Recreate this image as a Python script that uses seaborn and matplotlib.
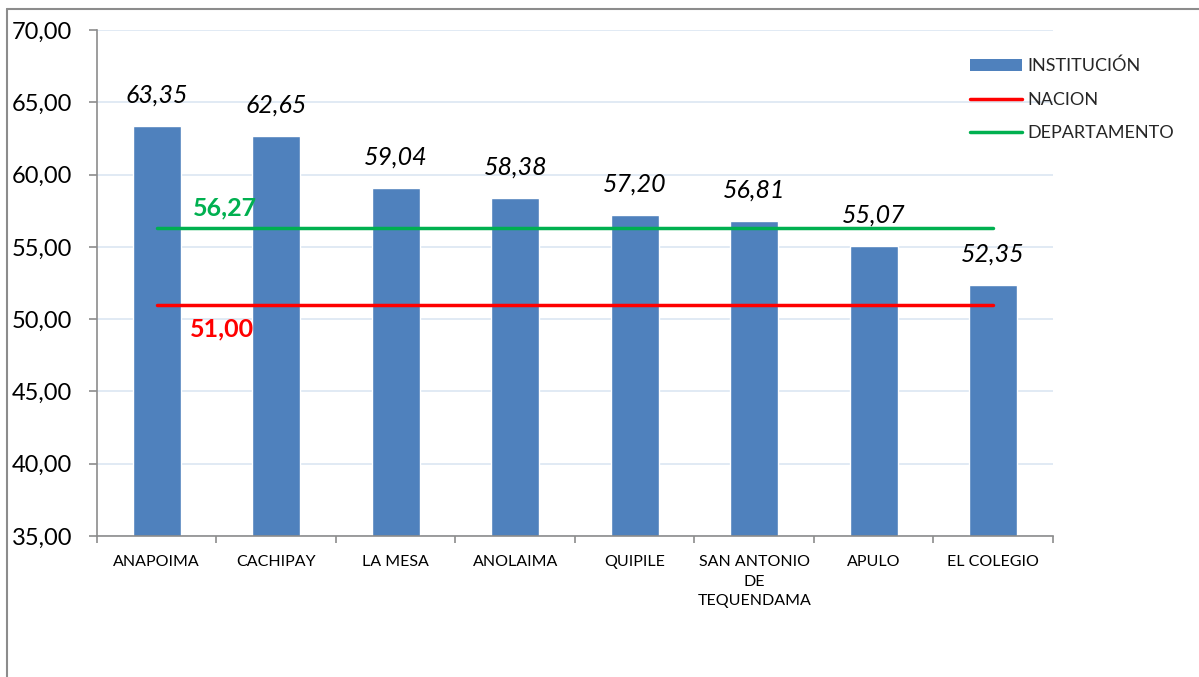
import numpy as np
import pandas as pd
import matplotlib.pyplot as plt
from matplotlib.lines import Line2D
from matplotlib.patches import Patch
from matplotlib.ticker import FuncFormatter, FixedLocator
import seaborn as sns

categories = ["ANAPOIMA", "CACHIPAY", "LA MESA", "ANOLAIMA", "QUIPILE",
              "SAN ANTONIO\nDE\nTEQUENDAMA", "APULO", "EL COLEGIO"]
institucion = [63.35, 62.65, 59.04, 58.38, 57.20, 56.81, 55.07, 52.35]
nacion = [51.00] * 8
departamento = [56.27] * 8

sns.set_theme(style="white")
plt.rcParams['font.family'] = ['Lato', 'DejaVu Sans']

def comma(v, pos=None):
    return f"{v:.2f}".replace(".", ",")

df = pd.DataFrame({"municipio": categories, "puntaje": institucion})

fig = plt.figure(figsize=(11.99, 6.77), dpi=100)
ax = fig.add_axes([0.0809, 0.2083, 0.7973, 0.7474])

sns.barplot(data=df, x="municipio", y="puntaje", color="#4F81BD",
            saturation=1, width=0.4, ax=ax, zorder=2)
xs = np.arange(len(categories))
ax.plot(xs, nacion, color="#FF0000", lw=2.5, zorder=3)
ax.plot(xs, departamento, color="#00B050", lw=2.5, zorder=3)

ax.set_ylim(35, 70)
ax.set_xlim(-0.5, len(categories) - 0.5)
ax.set_yticks(np.arange(35, 71, 5))
ax.yaxis.set_major_formatter(FuncFormatter(comma))
ax.grid(axis="y", color="#DCE6F2", lw=1.2, zorder=0)
ax.set_xlabel("")
ax.set_ylabel("")

for sp in ["top", "right"]:
    ax.spines[sp].set_visible(False)
for sp in ["left", "bottom"]:
    ax.spines[sp].set_color("#8C8C8C")
    ax.spines[sp].set_linewidth(1.2)

ax.tick_params(axis="y", left=True, length=6, width=1.2, color="#8C8C8C",
               pad=12, labelsize=17, labelcolor="black")
ax.tick_params(axis="x", bottom=False, pad=8, labelsize=11.5, labelcolor="black")
ax.xaxis.set_minor_locator(FixedLocator(np.arange(-0.5, len(categories), 1)))
ax.tick_params(axis="x", which="minor", bottom=True, length=5, width=1.2,
               color="#8C8C8C")
for lbl in ax.get_xticklabels():
    lbl.set_linespacing(1.5)

for x, v in zip(xs, institucion):
    ax.annotate(comma(v), (x, v), xytext=(0, 14), textcoords="offset points",
                ha="center", va="bottom", fontsize=18, style="italic",
                color="black")

ax.text(0.3, departamento[0] + 0.6, comma(departamento[0]), color="#00B050",
        fontsize=18, fontweight="bold", ha="left", va="bottom")
ax.text(0.28, nacion[0] - 0.9, comma(nacion[0]), color="#FF0000",
        fontsize=18, fontweight="bold", ha="left", va="top")

handles = [Patch(facecolor="#4F81BD", edgecolor="none"),
           Line2D([0], [0], color="#FF0000", lw=2.5),
           Line2D([0], [0], color="#00B050", lw=2.5)]
fig.legend(handles, ["INSTITUCIÓN", "NACION", "DEPARTAMENTO"],
           loc="upper left", bbox_to_anchor=(0.803, 0.925), frameon=False,
           fontsize=13, handlelength=2.9, handleheight=0.6,
           handletextpad=0.3, labelspacing=0.95, borderaxespad=0)

fig.add_artist(Line2D([0.006, 0.006], [0.0, 0.987], color="#8C8C8C", lw=1.5))
fig.add_artist(Line2D([0.006, 1.0], [0.987, 0.987], color="#8C8C8C", lw=1.5))

fig.savefig("out.png", dpi=100)
